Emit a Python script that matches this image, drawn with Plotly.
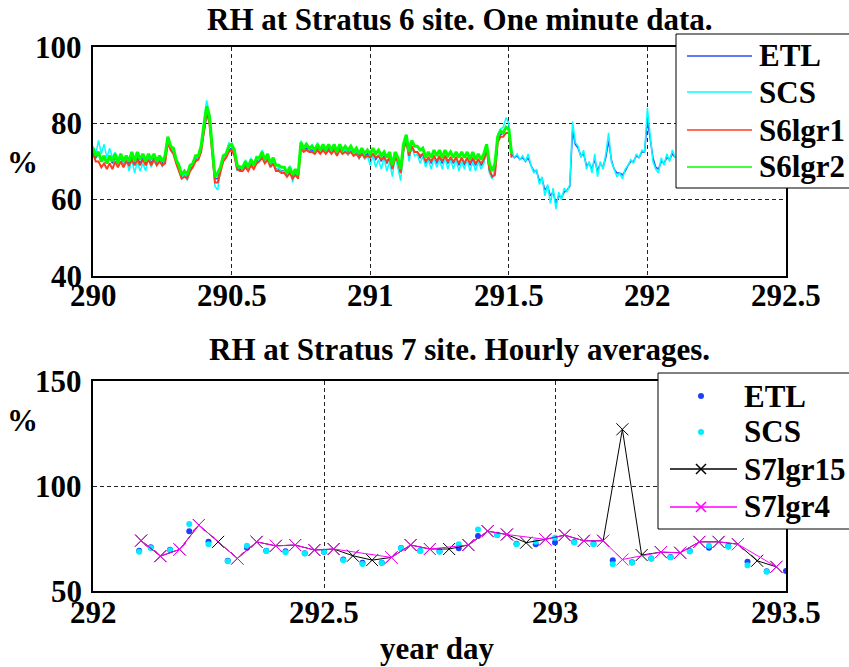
import numpy as np
import plotly.graph_objects as go

# ---------------- Stratus 6: one-minute RH (sampled every 0.01 day) ----------------
t0_s6 = 290.0
dt_s6 = 0.01

s6_etl = [
    72.5, 71, 72, 70, 71, 69.5, 71, 69.5, 71, 69.5,
    71, 69.5, 70.5, 69.5, 71, 69.5, 71, 69.5, 71, 69.5,
    71, 69.5, 71, 69.5, 70.5, 69.5, 70, 75.5, 73.5, 72.5,
    70, 68, 66, 66.5, 66, 68, 69, 70.5, 71, 73,
    77, 82, 81, 73, 65.5, 65.5, 68, 70.5, 71.5, 73,
    73.5, 72, 68.5, 68, 68, 69, 68, 69.5, 68.5, 70,
    70.5, 71.5, 70, 71, 69, 70, 68, 68, 67.5, 67.5,
    66.5, 67.5, 66, 67, 66, 74, 73, 73.5, 73, 73,
    72.5, 73.5, 72.5, 73.5, 72.5, 73.5, 72.5, 73.5, 72, 73.5,
    72.5, 73, 72.5, 73, 72, 72.5, 71.5, 72.5, 71.5, 72,
    71, 72, 70.5, 71.5, 70, 71.5, 69.5, 71, 68, 71,
    69.5, 67, 73, 75.5, 71, 74, 72.5, 72.5, 71, 72,
    69.5, 71, 69.5, 71.5, 69.5, 71, 69.5, 71.5, 69.5, 71,
    69.5, 71, 69, 71, 69, 71, 69, 70.5, 69, 70.5,
    69, 70, 73.5, 67.5, 66, 67, 75.5, 77, 77.5, 79,
    78.5, 72, 71, 71.5, 70.5, 71, 70, 71, 69, 67.5,
    67.5, 65, 65.5, 62.5, 63.5, 61, 62, 59, 61, 60.5,
    62, 62.5, 63.5, 78, 74.5, 73.5, 71.5, 72, 69, 69.5,
    68, 70.5, 67.5, 69.5, 68.5, 71, 75.5, 70.5, 68, 67,
    67, 66.5, 67.5, 69, 70, 70, 71.5, 71, 72.5, 72.5,
    81, 76, 71, 68.5, 68, 70, 69.5, 71, 70.5, 72,
    71,
]

s6_scs = [
    74, 72, 75.5, 72, 74.5, 71, 73.5, 71, 72.5, 70.5,
    72, 69.5, 71, 67.5, 70.5, 67, 70, 67.5, 69.5, 67.5,
    71, 68.5, 70.5, 69, 71, 68.5, 70.5, 76, 74.5, 72,
    70.5, 67.5, 65.5, 67, 65, 68.5, 69, 71.5, 70.5, 73,
    80.5, 86, 82.5, 72.5, 63.5, 62.5, 68, 70.5, 71.5, 75,
    74, 72, 67.5, 69, 67.5, 70.5, 67.5, 71, 68.5, 71.5,
    70, 73, 69.5, 72, 68.5, 70.5, 67.5, 68.5, 67, 67.5,
    66, 69, 64.5, 67.5, 65.5, 75.5, 73, 75, 73, 74.5,
    72.5, 75, 72.5, 74, 72, 74.5, 72.5, 74, 72, 74.5,
    72, 73.5, 71.5, 73.5, 71.5, 73, 70.5, 72.5, 70.5, 71.5,
    69, 71.5, 68.5, 70.5, 68, 71, 67.5, 70, 66, 71.5,
    68, 65, 72.5, 76.5, 70, 74, 71.5, 72, 69.5, 71.5,
    68.5, 70.5, 68, 71, 68.5, 70.5, 68, 71, 68, 70.5,
    68, 70.5, 67.5, 70, 68, 70.5, 67.5, 70, 67.5, 70,
    68, 69.5, 74.5, 67, 65.5, 68, 77, 78.5, 79, 81.5,
    80, 73, 71, 72, 70.5, 71.5, 70, 72, 69, 67,
    68, 64, 66, 61, 64, 59, 63, 57.5, 62, 60,
    63, 62, 64, 80.5, 75, 74, 71, 73, 68, 70,
    67, 72, 66, 70, 68, 72, 77.5, 70, 68, 66,
    67, 65.5, 68, 69, 70.5, 69.5, 72, 71, 73, 72.5,
    84, 76, 70, 68, 67, 71, 69, 72, 70, 73,
    71,
]

s6_lgr1 = [
    72, 70, 70, 68.5, 69.5, 68, 69.5, 68, 70, 68.5,
    70, 68.5, 70, 69, 70.5, 69, 70.5, 69, 70.5, 69,
    70.5, 69, 70.5, 69, 70, 69, 69.5, 75, 73, 72,
    69.5, 67.5, 65.5, 66, 65.5, 67.5, 68.5, 70, 70.5, 72.5,
    78, 83, 80, 72, 64.5, 64.5, 67.5, 70, 71, 72.5,
    73, 71.5, 68, 67.5, 67.5, 68.5, 67.5, 69, 68, 69.5,
    70, 71, 69.5, 70.5, 68.5, 69.5, 67.5, 67.5, 67, 67,
    66, 67, 65.5, 66.5, 65.5, 73.5, 72.5, 73, 72.5, 72.5,
    72, 73, 72, 73, 72, 73, 72, 73, 71.5, 73,
    72, 72.5, 72, 72.5, 71.5, 72, 71, 72, 71, 71.5,
    71, 72, 71, 71.5, 70.5, 71, 70, 71, 68, 71,
    70, 67, 73, 75.5, 71.5, 74, 72.5, 72.5, 71.5, 72,
    70, 71, 70, 71.5, 70, 71.5, 70, 71.5, 70, 71,
    70, 71, 69.5, 71, 69.5, 71, 69.5, 71, 69.5, 70.5,
    69.5, 70.5, 73, 68, 66, 66.5, 75, 76.5, 76.5, 77.5,
    77.5, 71,
]

s6_lgr2 = [
    73.5, 71.5, 72.5, 70, 71.5, 69.5, 71.5, 70, 72, 69.5,
    72, 70, 71.5, 70, 72.5, 70, 72.5, 70.5, 72, 70,
    72, 70.5, 72, 70, 71.5, 70, 71.5, 76.5, 74, 73.5,
    70.5, 69, 66.5, 67.5, 66.5, 69, 69.5, 71.5, 71.5, 74,
    79.5, 84.5, 82, 74, 66, 67, 68.5, 71.5, 72, 74,
    74.5, 73, 69, 68.5, 68.5, 70, 68.5, 70.5, 69, 71,
    71, 72.5, 70.5, 72, 69.5, 71, 69, 69, 68.5, 68.5,
    67, 68.5, 66.5, 68, 66.5, 75, 73.5, 74.5, 73.5, 74,
    73, 74.5, 73, 74.5, 73, 74.5, 73, 74.5, 72.5, 74.5,
    73, 74, 73, 74, 72.5, 73.5, 72, 73.5, 72, 73,
    72, 73.5, 72, 73, 71.5, 72.5, 71, 72.5, 69, 72.5,
    71, 68, 74.5, 77, 72.5, 75.5, 74, 74, 73, 73.5,
    71, 72.5, 71, 73, 71.5, 73, 71, 73, 71.5, 72.5,
    71, 72.5, 71, 72.5, 71, 72.5, 70.5, 72.5, 70.5, 72,
    70.5, 72, 74.5, 69.5, 67.5, 69.5, 76.5, 78, 77.5, 79,
    78.5, 72,
]

s6_xticks = [290, 290.5, 291, 291.5, 292, 292.5]
s6_yticks = [40, 60, 80, 100]

# ---------------- Stratus 7: hourly averages ----------------
s7_dot_hours = [2.4] + list(range(3, 37))
s7_etl = [69.2, 70.8, 69.6, 78.5, 73.4, 64.4, 70.6, 69.2, 68.9, 68.0,
          68.7, 65.0, 63.5, 63.5, 70.5, 69.2, 68.9, 70.3, 76.2, 76.8,
          72.5, 72.3, 73.1, 73.3, 72.5, 64.7, 63.7, 65.5, 66.2, 69.0,
          70.6, 71.3, 63.9, 59.4, 59.5]
s7_scs = [68.7, 70.5, 69.4, 81.9, 72.3, 64.2, 71.5, 69.0, 68.5, 67.9,
          68.7, 64.7, 62.8, 63.3, 70.3, 69.0, 68.7, 72.3, 79.3, 76.6,
          72.3, 73.4, 75.4, 73.1, 72.3, 62.7, 63.5, 65.5, 66.0, 68.8,
          71.5, 71.1, 62.3, 59.2]

s7_lgr_hours = [h + 0.5 for h in range(2, 36)]
s7_lgr15 = [74, 66.6, 69.8, 81.4, 73.4, 65.5, 73.4, 71.5, 71.9, 69.5,
            70, 66.8, 64.7, 66, 71.9, 70, 70, 71.9, 78.5, 76.9,
            73, 74.6, 76.6, 73.9, 73.9, 127, 67.1, 68.5, 68.2, 73.4,
            73.4, 72.3, 64.4, 61.5]
s7_lgr4 = [74, 66.6, 69.8, 81.4, None, 65.5, 73.4, 71.5, 71.9, 69.5,
           70, None, None, 66, 71.9, 70, None, 71.9, 78.5, 76.9,
           None, 74.6, 76.6, 73.9, 73.9, 65, None, 68.5, 68.2, 73.4,
           73.4, 72.3, None, 61.5]

s7_xticks = [292, 292.5, 293, 293.5]
s7_yticks = [50, 100, 150]


def s6_days(values):
    return np.round(t0_s6 + dt_s6 * np.arange(len(values)), 2)


def hour_to_day(hours, day0=292.0):
    return [day0 + h / 24.0 for h in hours]


def fmt(v):
    return f"{v:g}"


FONT = "Times New Roman"
W, H = 849, 667


def px(x):
    return x / W


def py(y):
    return 1 - y / H


fig = go.Figure()

# top panel
s6_series = [("ETL", s6_etl, "#2a4bff", 1.5),
             ("SCS", s6_scs, "#00ffff", 1.5),
             ("S6lgr1", s6_lgr1, "#ff3b1f", 2),
             ("S6lgr2", s6_lgr2, "#00ff00", 3)]
for name, vals, color, width in s6_series:
    fig.add_trace(go.Scatter(x=s6_days(vals), y=vals, mode="lines", name=name,
                             line=dict(color=color, width=width),
                             xaxis="x", yaxis="y"))

# bottom panel
fig.add_trace(go.Scatter(x=hour_to_day(s7_dot_hours), y=s7_etl, mode="markers", name="ETL",
                         marker=dict(color="#1f3fff", size=6), xaxis="x2", yaxis="y2"))
fig.add_trace(go.Scatter(x=hour_to_day(s7_dot_hours[:len(s7_scs)]), y=s7_scs, mode="markers", name="SCS",
                         marker=dict(color="#00eeff", size=6), xaxis="x2", yaxis="y2"))
fig.add_trace(go.Scatter(x=hour_to_day(s7_lgr_hours), y=s7_lgr15, mode="lines+markers", name="S7lgr15",
                         line=dict(color="black", width=1),
                         marker=dict(symbol="x-thin", size=12, color="black",
                                     line=dict(color="black", width=1)),
                         xaxis="x2", yaxis="y2"))
fig.add_trace(go.Scatter(x=hour_to_day(s7_lgr_hours), y=s7_lgr4, mode="lines+markers", name="S7lgr4",
                         connectgaps=True,
                         line=dict(color="#ff00ff", width=1),
                         marker=dict(symbol="x-thin", size=12, color="#ff00ff",
                                     line=dict(color="#ff00ff", width=1)),
                         xaxis="x2", yaxis="y2"))

common = dict(showgrid=True, gridcolor="#222222", gridwidth=1, griddash="4px,3px",
              showline=True, mirror=True, linecolor="black", linewidth=1.5,
              zeroline=False, ticks="", showticklabels=False)

fig.update_layout(
    template="none",
    width=W, height=H,
    margin=dict(l=0, r=0, t=0, b=0, autoexpand=False),
    paper_bgcolor="white", plot_bgcolor="white",
    font=dict(family=FONT, color="black"),
    showlegend=False,
    xaxis=dict(domain=[px(93), px(786)], range=[290, 292.5], anchor="y",
               tickvals=s6_xticks, **common),
    yaxis=dict(domain=[py(276), py(47)], range=[40, 100], anchor="x",
               tickvals=s6_yticks, **common),
    xaxis2=dict(domain=[px(93), px(786)], range=[292, 293.5], anchor="y2",
                tickvals=s7_xticks, **common),
    yaxis2=dict(domain=[py(591), py(381)], range=[50, 150], anchor="x2",
                tickvals=s7_yticks, **common),
)

txt_font = dict(family=FONT, size=31, color="black", weight="bold")


def text(label, x, y, xref="paper", yref="paper", xanchor="center"):
    fig.add_annotation(text=label, x=x, y=y, xref=xref, yref=yref, xanchor=xanchor,
                       yanchor="middle", showarrow=False, font=txt_font)


# tick labels placed through each axis' own scale
for v in s6_xticks:
    text(fmt(v), v, py(295), xref="x")
for v in s6_yticks:
    text(fmt(v), px(84), v, yref="y", xanchor="right")
for v in s7_xticks:
    text(fmt(v), v, py(612), xref="x2")
for v in s7_yticks:
    text(fmt(v), px(84), v, yref="y2", xanchor="right")

text("RH at Stratus 6 site. One minute data.", px(460), py(19))
text("RH at Stratus 7 site. Hourly averages.", px(460), py(349))
text("%", px(22), py(162))
text("%", px(22), py(420))
text("year day", px(437), py(648))


# legend boxes
def box(x0, y0, y1):
    fig.add_shape(type="rect", xref="paper", yref="paper", layer="above",
                  x0=px(x0), x1=px(W + 20), y0=py(y1), y1=py(y0),
                  line=dict(color="black", width=1), fillcolor="white")


def seg(x0, y0, x1, y1, color):
    fig.add_shape(type="line", xref="paper", yref="paper", layer="above",
                  x0=px(x0), x1=px(x1), y0=py(y0), y1=py(y1),
                  line=dict(color=color, width=1.5))


box(676, 34, 188)
for (name, _, color, _), yy in zip(s6_series, [56, 92, 130, 167]):
    seg(687, yy, 752, yy, color)
    text(name, px(757), py(yy), xanchor="left")

box(658, 373, 529)
s7_legend = [("ETL", "#1f3fff", "dot", 396), ("SCS", "#00eeff", "dot", 432),
             ("S7lgr15", "black", "xline", 469), ("S7lgr4", "#ff00ff", "xline", 507)]
for name, color, kind, yy in s7_legend:
    if kind == "dot":
        fig.add_shape(type="circle", xref="paper", yref="paper", layer="above",
                      x0=px(698), x1=px(704), y0=py(yy + 3), y1=py(yy - 3),
                      fillcolor=color, line=dict(color=color, width=0))
    else:
        seg(670, yy, 737, yy, color)
        seg(696, yy - 5, 706, yy + 5, color)
        seg(696, yy + 5, 706, yy - 5, color)
    text(name, px(742), py(yy), xanchor="left")

fig.write_html("out.html")
